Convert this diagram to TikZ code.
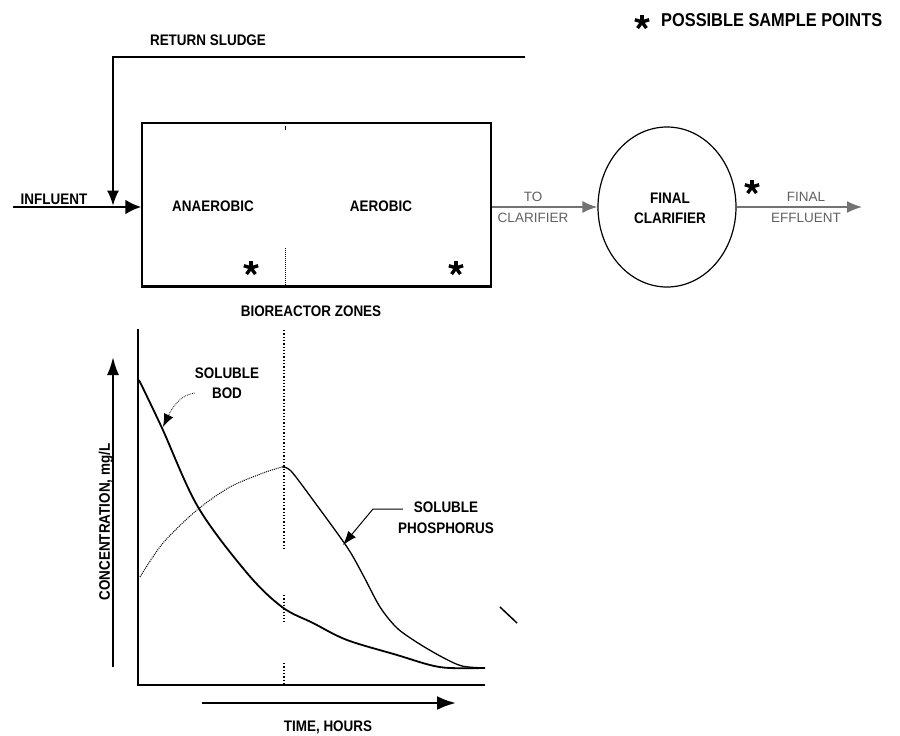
\documentclass[tikz,border=0pt]{standalone}
\usepackage{fontspec}
\setmainfont{Liberation Sans}
\newfontfamily\labfont{Liberation Sans}[FakeStretch=0.88]
\usetikzlibrary{arrows.meta,shapes.geometric}
\begin{document}
\begin{tikzpicture}[x=1pt,y=-1pt,
  lab/.style={font=\labfont\bfseries\fontsize{15.3}{20.5}\selectfont, inner sep=0pt, align=center},
  glab/.style={font=\fontsize{13.5}{21}\selectfont, text=black!62, inner sep=0pt, align=center},
  starmark/.style={circle, minimum size=18pt, inner sep=0pt,
    path picture={\foreach \a in {18,90,162,234,306} \draw[line width=3.4pt] (path picture bounding box.center) -- ++(\a:7.5pt);}},
  wire/.style={line width=1.3pt},
  graywire/.style={line width=1.6pt, draw=black!55, -{Latex[length=15pt,width=12pt]}},
]
\useasboundingbox (0,0) rectangle (900,736);

% legend
\node[starmark] (legstar) at (642,22) {};
\node[lab, font=\labfont\bfseries\fontsize{18.6}{18.6}\selectfont, anchor=west] (legend) at (661,20) {POSSIBLE SAMPLE POINTS};

% bioreactor
\node[draw, line width=1.4pt, minimum width=349pt, minimum height=163pt, inner sep=0pt] (reactor) at (316.5,204.5) {};
\draw[line width=3pt] (reactor.south west) -- (reactor.south east);
\draw[densely dotted, line width=1pt] (285,248) -- (285,286);
\draw[line width=0.8pt] (285,126) -- (285,130);
\node[lab] (anaer) at (213,206) {ANAEROBIC};
\node[lab] (aer) at (381,206) {AEROBIC};
\node[starmark] (s1) at (251,268) {};
\node[starmark] (s2) at (456,268) {};
\node[lab] (zones) at (311,311) {BIOREACTOR ZONES};

% influent and return sludge
\coordinate (infl) at (13,207);
\draw[line width=2.8pt, -{Latex[length=16pt,width=15pt]}] (infl) -- (reactor.west |- infl);
\node[lab] (inflab) at (54,199) {INFLUENT};
\coordinate (rsend) at (525,57);
\coordinate (rscorner) at (113,57);
\draw[wire, -{Latex[length=15pt,width=12pt]}, shorten >=1.5pt] (rsend) -- (rscorner) -- (rscorner |- infl);
\node[lab] (rslab) at (208,40) {RETURN SLUDGE};

% clarifier
\node[ellipse, draw, line width=1.2pt, minimum width=138pt, minimum height=160pt, inner sep=0pt] (clar) at (667,207) {};
\node[lab] (clarlab) at (670,208.5) {FINAL\\CLARIFIER};
\draw[graywire] (reactor.east |- clar.west) -- (clar.west);
\node[glab] (tocl) at (533,207.5) {TO\\CLARIFIER};
\node[starmark] (s3) at (752,187) {};
\coordinate (eff) at (862,207);
\draw[graywire] (clar.east) -- (eff);
\node[glab] (efflab) at (806,207.5) {FINAL\\EFFLUENT};

% graph axes
\coordinate (O) at (138,685);
\draw[line width=2pt] (138,329) -- (O) -- (485,685);
\draw[line width=2.2pt, -{Latex[length=18pt,width=12pt]}] (113,667) -- (113,357);
\draw[line width=2.5pt, -{Latex[length=19pt,width=14pt]}] (202,703) -- (456,703);
\node[lab] (tlab) at (328,727) {TIME, HOURS};
\node[lab, rotate=90] (clab) at (106,522) {CONCENTRATION, mg/L};

% zone divider in graph
\draw[dotted, line width=1.3pt] (284,330) -- (284,550);
\draw[dotted, line width=1.3pt] (284,595) -- (284,622);
\draw[dotted, line width=1.3pt] (284,663) -- (284,685);

% curves
\draw[line width=1.8pt] plot[smooth, tension=0.55] coordinates {(139,380) (162,428) (198,507) (247,573) (282,607) (313,623) (347,640) (397,655) (430,665) (450,668) (485,668)};
\draw[densely dotted, line width=1pt] plot[smooth] coordinates {(140,577) (163,543) (197,510) (230,487) (263,473) (282,467)};
\draw[line width=1.3pt] plot[smooth, tension=0.5] coordinates {(282,467) (291,471) (313,500) (347,547) (363,575) (380,607) (397,628) (418,643) (442,657) (462,666) (485,668)};

% curve labels
\node[lab] (bodlab) at (227,383) {SOLUBLE\\BOD};
\draw[densely dotted, line width=0.8pt, -{Latex[length=13pt,width=10pt]}] ([yshift=-10pt]bodlab.west) .. controls (180,395) and (172,408) .. (163,427);
\node[lab] (phoslab) at (446,517.5) {SOLUBLE\\PHOSPHORUS};
\draw[line width=1pt, -{Latex[length=14pt,width=10pt]}] ([xshift=5pt,yshift=8.5pt]phoslab.west) -- (373,509) -- (343,545);

% stray mark
\draw[line width=1.5pt] (500,607) -- (517,623);
\end{tikzpicture}
\end{document}
